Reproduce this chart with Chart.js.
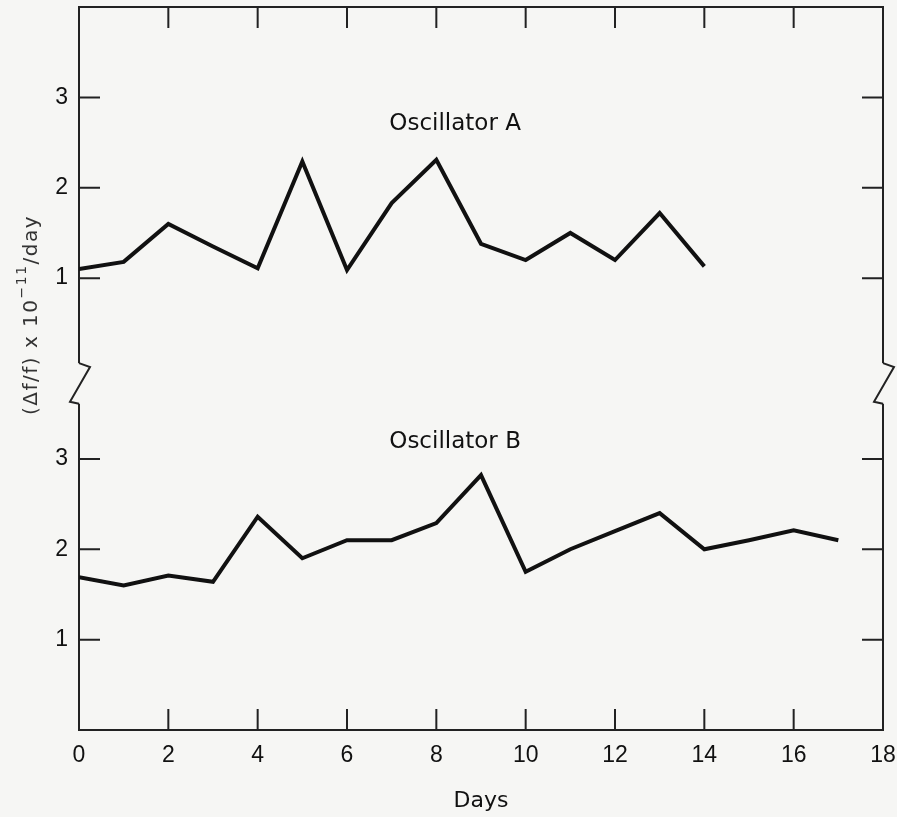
<!DOCTYPE html>
<html><head><meta charset="utf-8">
<script src="https://cdn.jsdelivr.net/npm/chart.js@4"></script>
<style>html,body{margin:0;padding:0;background:#f6f6f4}canvas{display:block}</style>
</head><body>
<canvas id="c" width="897" height="817"></canvas>
<script>
// ---- data ----
const daysA = [0,1,2,3,4,5,6,7,8,9,10,11,12,13,14];
const oscA  = [1.10,1.18,1.60,1.35,1.11,2.29,1.09,1.83,2.31,1.38,1.20,1.50,1.20,1.72,1.13];
const daysB = [0,1,2,3,4,5,6,7,8,9,10,11,12,13,14,15,16,17];
const oscB  = [1.69,1.60,1.71,1.64,2.36,1.90,2.10,2.10,2.29,2.82,1.75,2.00,2.20,2.40,2.00,2.10,2.21,2.10];
const seriesNames = ['Oscillator A','Oscillator B'];
const xTickValues = [0,2,4,6,8,10,12,14,16,18];
const yTickValues = [1,2,3];          // labels in each panel
const panelOffset = 4;               // upper panel (A) sits 4 units above lower panel (B)
const breakRange = [3.61, 4.06];     // axis break, in axis units
const labelAnchors = [[8.42, 6.71],[8.42, 3.19]]; // day, axis units

// ---- style ----
const BG = '#f6f6f4', INK = '#111111', AX = '#222222';
const TICK = 21;

const yAllTicks = yTickValues.concat(yTickValues.map(v => v + panelOffset));
const noPad = s => { s.paddingTop = 0; s.paddingBottom = 0; s.paddingLeft = 0; s.paddingRight = 0; };

const frame = {
  id: 'frame',
  beforeDraw(chart) {
    const ctx = chart.ctx;
    ctx.save(); ctx.fillStyle = BG; ctx.fillRect(0, 0, chart.width, chart.height); ctx.restore();
  },
  afterDraw(chart) {
    const {ctx, chartArea: a, scales: {x, y}} = chart;
    ctx.save();
    ctx.strokeStyle = AX; ctx.lineWidth = 2; ctx.lineCap = 'butt';
    ctx.beginPath();
    x.ticks.forEach(t => {
      if (t.value <= x.min || t.value >= x.max) return;
      const px = x.getPixelForValue(t.value);
      ctx.moveTo(px, a.bottom); ctx.lineTo(px, a.bottom - TICK);
      ctx.moveTo(px, a.top); ctx.lineTo(px, a.top + TICK);
    });
    y.ticks.forEach(t => {
      const py = y.getPixelForValue(t.value);
      ctx.moveTo(a.left, py); ctx.lineTo(a.left + TICK, py);
      ctx.moveTo(a.right, py); ctx.lineTo(a.right - TICK, py);
    });
    ctx.stroke();
    // axis breaks
    const yt = y.getPixelForValue(breakRange[1]), yb = y.getPixelForValue(breakRange[0]);
    ctx.fillStyle = BG;
    [a.left, a.right].forEach(ex => ctx.fillRect(ex - 3, yt, 6, yb - yt));
    ctx.beginPath();
    [a.left, a.right].forEach(ex => {
      ctx.moveTo(ex, yt); ctx.lineTo(ex + 11, yt + 4); ctx.lineTo(ex - 9, yb - 2); ctx.lineTo(ex, yb);
    });
    ctx.stroke();
    // series labels
    ctx.fillStyle = INK; ctx.font = '23px "DejaVu Sans"';
    ctx.textAlign = 'center'; ctx.textBaseline = 'middle';
    seriesNames.forEach((n, i) => {
      ctx.fillText(n, x.getPixelForValue(labelAnchors[i][0]), y.getPixelForValue(labelAnchors[i][1]));
    });
    // y-axis title with superscript
    const parts = [
      {t: '(\u0394f/f) x 10', f: '20px "DejaVu Sans"', dy: 0},
      {t: '\u221211', f: '14px "DejaVu Sans"', dy: -11},
      {t: '/day', f: '20px "DejaVu Sans"', dy: 0}
    ];
    try { ctx.letterSpacing = '1.5px'; } catch (e) {}
    ctx.fillStyle = '#333333';
    let total = 0;
    parts.forEach(p => { ctx.font = p.f; p.w = ctx.measureText(p.t).width; total += p.w; });
    ctx.translate(37, 315); ctx.rotate(-Math.PI / 2);
    ctx.textAlign = 'left'; ctx.textBaseline = 'alphabetic';
    let cx = -total / 2;
    parts.forEach(p => { ctx.font = p.f; ctx.fillText(p.t, cx, p.dy); cx += p.w; });
    ctx.restore();
  }
};

new Chart(document.getElementById('c'), {
  type: 'line',
  data: {
    datasets: [
      {label: seriesNames[0], data: daysA.map((d, i) => ({x: d, y: oscA[i] + panelOffset}))},
      {label: seriesNames[1], data: daysB.map((d, i) => ({x: d, y: oscB[i]}))}
    ]
  },
  options: {
    responsive: false, devicePixelRatio: 1, animation: false,
    layout: {padding: 0},
    elements: {
      line: {borderColor: INK, borderWidth: 4, tension: 0, borderJoinStyle: 'miter', fill: false},
      point: {radius: 0}
    },
    plugins: {legend: {display: false}, tooltip: {enabled: false}},
    scales: {
      x: {
        type: 'linear', position: 'bottom', min: 0, max: 18,
        afterBuildTicks: s => { s.ticks = xTickValues.map(v => ({value: v})); },
        ticks: {color: INK, font: {family: '"Liberation Sans"', size: 23}, padding: 12, maxRotation: 0},
        grid: {display: false, drawTicks: false},
        border: {display: true, color: AX, width: 2},
        title: {display: true, text: 'Days', color: INK, font: {family: '"DejaVu Sans"', size: 22}, padding: {top: 0, bottom: 3}},
        afterFit: s => { s.height = 87; noPad(s); }
      },
      xTop: {
        type: 'linear', position: 'top', min: 0, max: 18,
        ticks: {display: false}, grid: {display: false, drawTicks: false},
        border: {display: true, color: AX, width: 2},
        afterFit: s => { s.height = 7; noPad(s); }
      },
      y: {
        type: 'linear', position: 'left', min: 0, max: 8,
        afterBuildTicks: s => { s.ticks = yAllTicks.map(v => ({value: v})); },
        ticks: {color: INK, font: {family: '"Liberation Sans"', size: 23}, padding: 11,
          callback: v => String(v > panelOffset ? v - panelOffset : v)},
        grid: {display: false, drawTicks: false},
        border: {display: true, color: AX, width: 2},
        afterFit: s => { s.width = 79; noPad(s); }
      },
      yRight: {
        type: 'linear', position: 'right', min: 0, max: 8,
        ticks: {display: false}, grid: {display: false, drawTicks: false},
        border: {display: true, color: AX, width: 2},
        afterFit: s => { s.width = 14; noPad(s); }
      }
    }
  },
  plugins: [frame]
});
</script>
</body></html>
